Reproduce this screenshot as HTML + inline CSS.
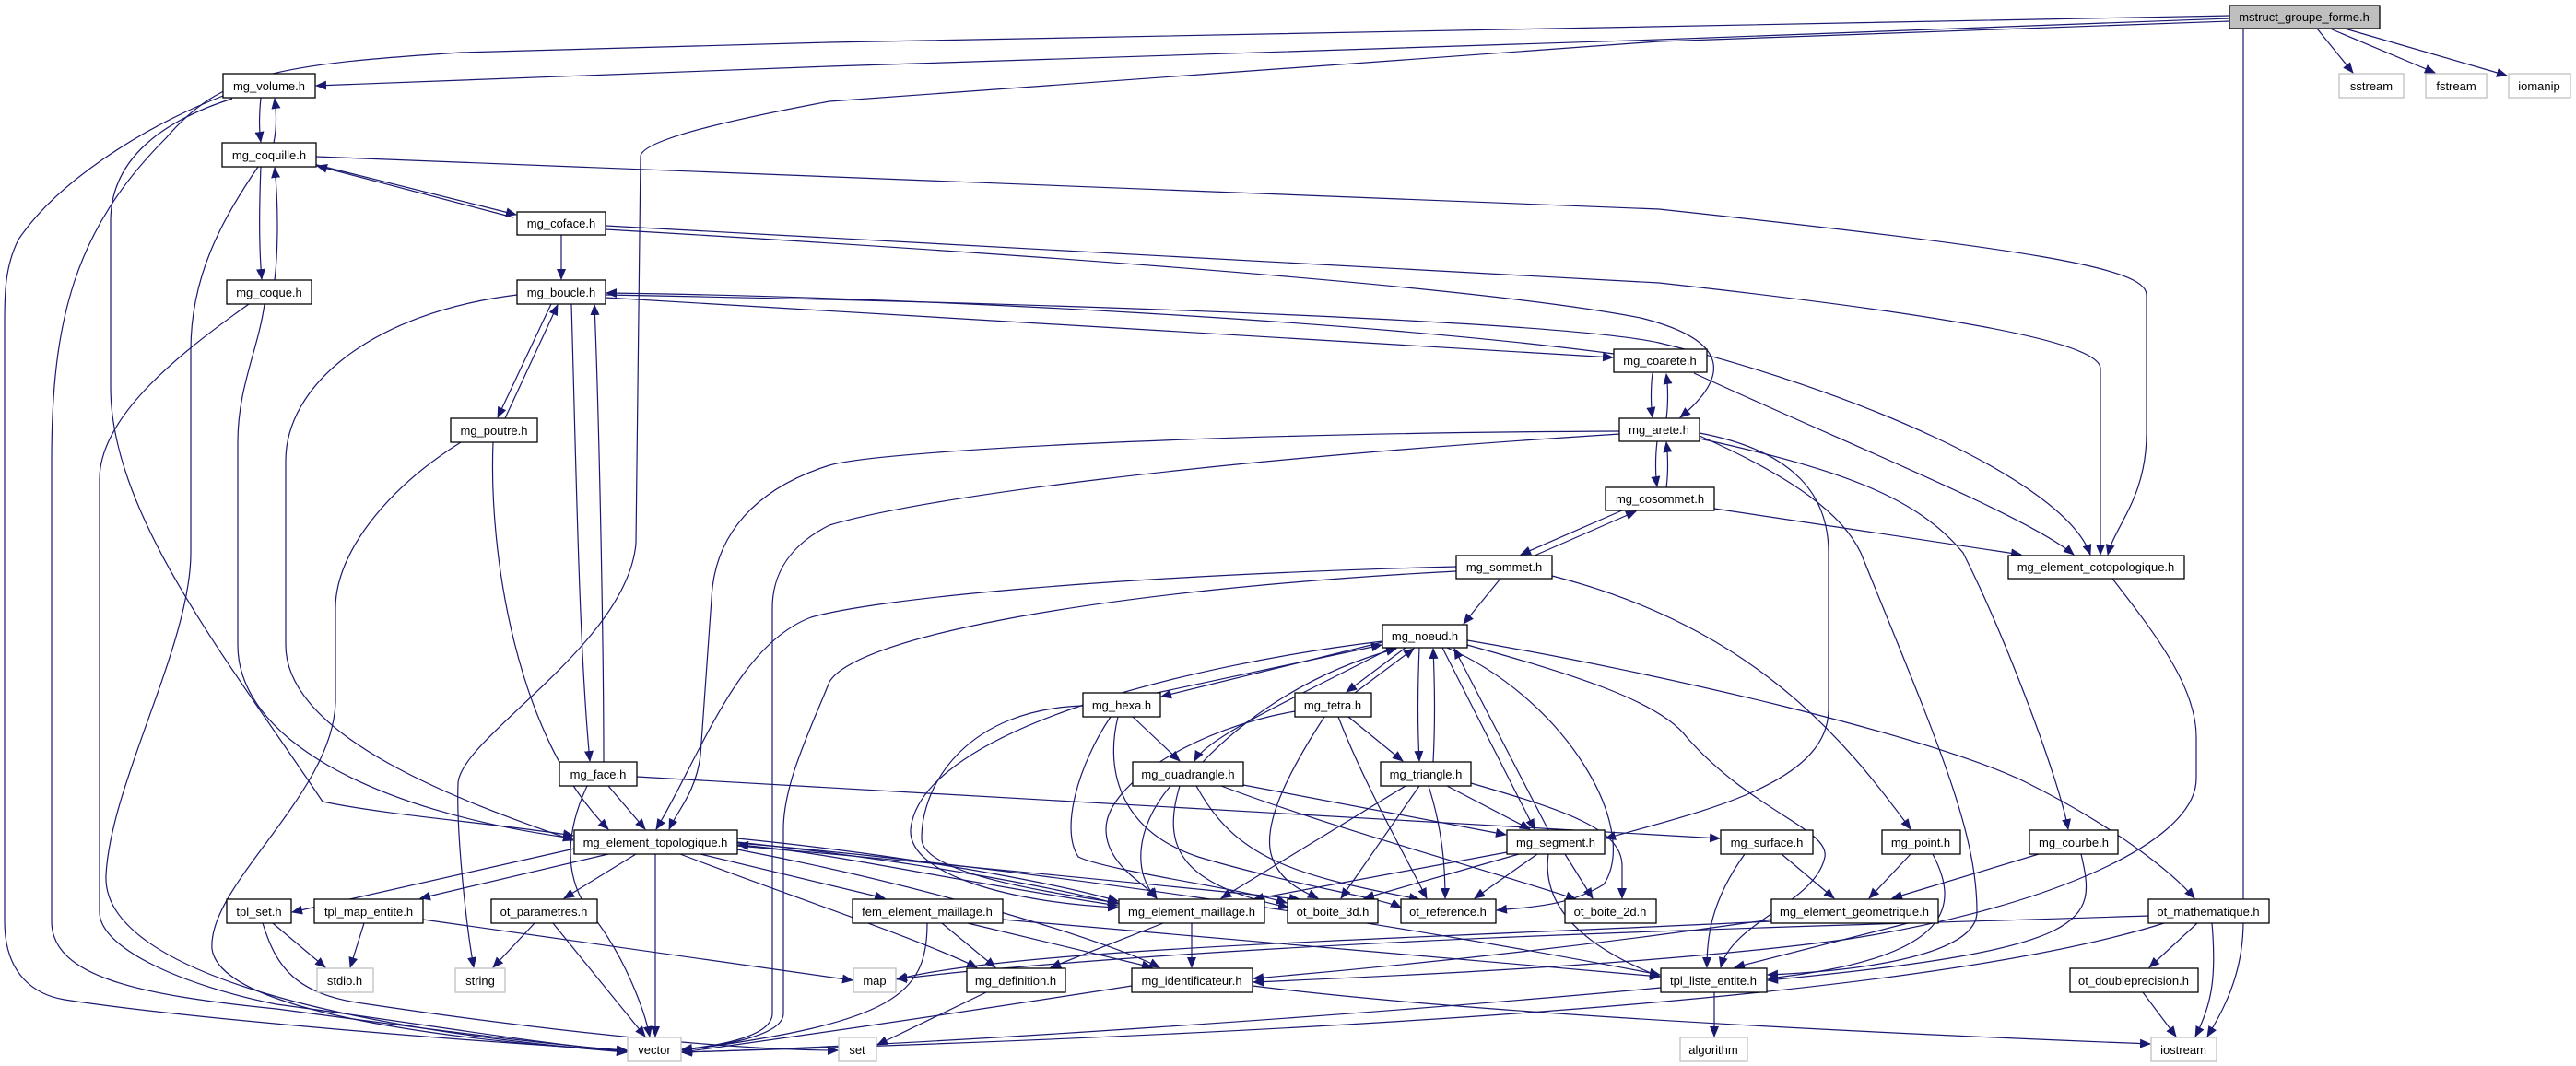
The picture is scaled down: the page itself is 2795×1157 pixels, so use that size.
<!DOCTYPE html>
<html><head><meta charset="utf-8"><style>
html,body{margin:0;padding:0;background:#fff;}
svg{display:block;}
text{font-family:"Liberation Sans",sans-serif;font-size:13px;fill:#000;}
</style></head><body>
<svg width="2795" height="1157" viewBox="0 0 2795 1157" xmlns="http://www.w3.org/2000/svg">
<defs>
<marker id="a" markerUnits="userSpaceOnUse" markerWidth="12" markerHeight="10" refX="11" refY="5" orient="auto">
<path d="M0,0 L12,5 L0,10 Z" fill="#191970"/>
</marker>
</defs>
<g fill="none" stroke="#191970" stroke-width="1.2" marker-end="url(#a)">
<!-- mstruct -->
<path d="M2419,20 L1800,43 L900,72 L343,93"/>
<path d="M2419,17 L900,46 L500,57 C300,70 240,80 180,150 C80,250 56,350 56,500 L56,1000 C56,1060 150,1080 300,1095 C450,1115 600,1135 680,1140"/>
<path d="M2419,23 L1800,45 L900,110 C820,125 695,150 695,170 L690,590 C680,700 500,800 497,850 C495,900 505,1000 514,1050"/>
<path d="M2434,31 L2434,1000 C2434,1060 2410,1100 2395,1125"/>
<path d="M2514,31 L2553,79"/>
<path d="M2528,31 L2642,79"/>
<path d="M2544,31 L2720,82"/>
<!-- volume / coquille / coque -->
<path d="M283,106 C281,125 281,140 283,154"/>
<path d="M297,155 C300,140 300,122 298,107"/>
<path d="M242,104 C150,140 60,200 20,260 C5,290 5,320 5,350 L5,1000 C5,1060 40,1080 70,1085 C200,1105 500,1130 680,1140"/>
<path d="M252,107 C180,130 120,170 120,240 L120,420 C120,560 250,720 350,870 C420,885 550,895 622,907"/>
<path d="M283,181 C281,230 281,270 284,303"/>
<path d="M298,304 C302,270 302,220 298,182"/>
<path d="M280,181 C240,240 207,300 207,380 L207,600 C207,700 120,850 115,950 C110,1060 400,1120 680,1142"/>
<path d="M343,170 L1800,227 C2200,270 2329,290 2329,320 L2329,470 C2329,540 2295,570 2287,602"/>
<path d="M340,178 L560,233"/>
<path d="M557,236 L344,180"/>
<path d="M270,330 C200,380 108,450 108,520 L108,990 C108,1030 200,1070 300,1090 C450,1110 600,1135 680,1141"/>
<path d="M287,330 C280,380 258,420 258,480 L258,700 C258,800 400,880 622,910"/>
<!-- coface -->
<path d="M609,255 L609,303"/>
<path d="M657,245 L1800,307 C2100,340 2279,370 2279,400 L2279,602"/>
<path d="M657,249 C1100,275 1600,310 1780,345 C1880,370 1875,410 1823,453"/>
<!-- boucle -->
<path d="M657,323 L1750,388"/>
<path d="M1751,384 C1500,350 1000,322 658,318"/>
<path d="M657,320 C1200,330 1700,350 1800,372 C2000,420 2240,520 2268,602"/>
<path d="M561,320 C400,340 310,420 310,500 L310,700 C310,800 500,870 622,912"/>
<path d="M620,330 C625,500 628,700 640,826"/>
<path d="M655,827 C655,700 650,450 645,331"/>
<path d="M598,330 L540,453"/>
<path d="M548,454 L605,331"/>
<!-- poutre -->
<path d="M500,480 C420,530 364,600 364,660 L364,760 C364,860 225,960 230,1030 C240,1100 500,1130 680,1141"/>
<path d="M535,480 C530,600 560,800 660,900"/>
<!-- face -->
<path d="M660,853 L700,900"/>
<path d="M637,853 C615,900 610,950 640,990 C680,1040 700,1100 705,1125"/>
<path d="M691,843 L1866,910"/>
<!-- coarete / arete / cosommet -->
<path d="M1793,405 C1791,420 1791,440 1793,453"/>
<path d="M1808,454 C1810,440 1810,420 1808,406"/>
<path d="M1838,405 C2000,480 2200,560 2250,602"/>
<path d="M1798,479 C1796,495 1796,515 1798,528"/>
<path d="M1808,529 C1810,515 1810,495 1808,480"/>
<path d="M1860,552 L2193,602"/>
<path d="M1844,470 C1950,490 1984,540 1984,600 L1984,770 C1984,850 1850,880 1742,910"/>
<path d="M1844,473 C1950,520 2000,560 2019,600 C2100,800 2145,900 2145,990 C2145,1040 2000,1055 1918,1058"/>
<path d="M1844,476 C2000,510 2080,540 2130,600 C2180,700 2235,850 2244,900"/>
<path d="M1758,468 C1300,470 950,490 900,505 C820,530 775,580 772,650 L760,820 C755,860 735,880 726,900"/>
<path d="M1758,471 C1300,500 1000,540 900,570 C860,590 838,620 838,660 L838,1100 C838,1125 780,1135 740,1139"/>
<path d="M1760,554 L1650,602"/>
<path d="M1665,603 L1775,555"/>
<!-- sommet -->
<path d="M1628,628 L1588,677"/>
<path d="M1580,615 C1200,625 950,650 880,670 C800,700 760,820 712,900"/>
<path d="M1580,620 C1200,640 930,690 900,740 C880,790 850,850 850,900 L850,1100 C850,1125 780,1135 740,1140"/>
<path d="M1684,625 C1900,680 2000,800 2073,900"/>
<!-- noeud -->
<path d="M1500,697 L1260,756"/>
<path d="M1255,752 L1499,700"/>
<path d="M1525,703 L1461,751"/>
<path d="M1470,752 L1534,704"/>
<path d="M1540,703 C1538,750 1538,790 1540,826"/>
<path d="M1555,827 C1557,790 1557,750 1555,704"/>
<path d="M1510,703 C1400,760 1310,800 1296,826"/>
<path d="M1305,827 C1350,780 1420,730 1515,704"/>
<path d="M1565,703 L1665,900"/>
<path d="M1680,901 L1578,704"/>
<path d="M1500,696 C1300,720 1000,790 988,900 C985,950 1100,980 1213,985"/>
<path d="M1570,703 C1700,760 1780,900 1740,960 C1700,985 1650,985 1624,988"/>
<path d="M1592,695 C1800,730 2100,800 2200,850 C2300,900 2360,950 2381,975"/>
<path d="M1592,700 C1700,730 1800,760 1830,800 C1900,880 1985,900 1980,930 C1970,980 1880,1000 1867,1050"/>
<!-- hexa -->
<path d="M1229,778 L1280,826"/>
<path d="M1175,766 C1050,770 1000,850 1000,910 C1000,950 1150,970 1213,980"/>
<path d="M1205,778 C1170,830 1150,900 1170,930 C1200,945 1350,965 1396,980"/>
<path d="M1213,778 C1200,830 1210,900 1300,930 C1400,960 1500,975 1520,985"/>
<!-- tetra -->
<path d="M1463,778 L1522,826"/>
<path d="M1437,778 C1390,850 1370,900 1380,930 C1390,960 1420,970 1430,975"/>
<path d="M1452,778 C1480,850 1520,920 1548,975"/>
<path d="M1405,772 C1300,790 1200,850 1200,900 C1200,940 1245,960 1255,975"/>
<!-- quadrangle -->
<path d="M1349,852 L1634,906"/>
<path d="M1270,853 C1230,900 1230,950 1255,975"/>
<path d="M1280,853 C1260,920 1280,960 1398,985"/>
<path d="M1298,853 C1340,930 1400,950 1540,976"/>
<path d="M1325,853 C1450,900 1600,940 1710,976"/>
<!-- triangle -->
<path d="M1570,853 L1660,900"/>
<path d="M1525,853 L1325,975"/>
<path d="M1540,853 L1455,975"/>
<path d="M1550,853 C1565,900 1568,940 1568,975"/>
<path d="M1596,850 C1700,880 1760,900 1760,940 L1760,975"/>
<!-- segment -->
<path d="M1635,925 L1360,976"/>
<path d="M1648,927 L1480,975"/>
<path d="M1668,927 L1600,975"/>
<path d="M1698,927 L1728,975"/>
<path d="M1680,927 C1670,1000 1750,1040 1801,1060"/>
<!-- topologique -->
<path d="M628,920 L317,990"/>
<path d="M660,927 L456,975"/>
<path d="M690,927 L612,975"/>
<path d="M711,927 L711,1125"/>
<path d="M800,910 C1000,930 1150,960 1213,978"/>
<path d="M1213,983 C1000,950 900,925 801,917"/>
<path d="M800,914 C1000,935 1150,965 1213,981"/>
<path d="M760,927 L960,975"/>
<path d="M738,927 C850,970 1000,1020 1060,1050"/>
<path d="M800,922 C1000,960 1200,1020 1258,1050"/>
<path d="M800,915 C1100,940 1500,1000 1801,1058"/>
<path d="M800,918 C1000,935 1300,965 1410,976"/>
<!-- lower -->
<path d="M296,1002 L353,1050"/>
<path d="M285,1002 C300,1050 320,1080 400,1090 C600,1120 800,1140 909,1140"/>
<path d="M395,1002 L380,1050"/>
<path d="M459,998 L925,1064"/>
<path d="M580,1002 L535,1050"/>
<path d="M600,1002 L700,1125"/>
<path d="M1022,1002 L1080,1050"/>
<path d="M1050,1002 L1250,1050"/>
<path d="M1006,1002 C1006,1080 970,1110 740,1140"/>
<path d="M1088,998 L1801,1060"/>
<path d="M1262,1002 L1140,1050"/>
<path d="M1293,1002 L1293,1050"/>
<path d="M2070,1002 L1882,1050"/>
<path d="M1922,998 C1700,1030 1500,1050 1360,1062"/>
<path d="M1922,1000 C1500,1020 1100,1030 973,1063"/>
<path d="M1893,927 C1855,980 1852,1020 1852,1050"/>
<path d="M1933,927 L1990,975"/>
<path d="M2073,927 L2028,975"/>
<path d="M2097,927 C2125,980 2125,1040 1918,1062"/>
<path d="M2212,927 L2053,975"/>
<path d="M2258,927 C2275,1000 2275,1030 1918,1064"/>
<path d="M2292,628 C2340,690 2383,746 2383,800 L2383,845 C2383,920 2200,990 2000,1020 C1800,1047 1500,1060 1360,1066"/>
<path d="M2384,1002 L2332,1050"/>
<path d="M2400,1002 C2405,1060 2400,1090 2382,1125"/>
<path d="M2348,1002 C2100,1080 1500,1120 740,1142"/>
<path d="M2331,994 C2000,1005 1500,1015 1100,1050 C1000,1058 990,1062 973,1062"/>
<path d="M2325,1077 L2361,1125"/>
<path d="M1860,1077 L1860,1125"/>
<path d="M1802,1072 C1500,1100 1000,1135 740,1142"/>
<path d="M1359,1070 C1600,1100 2000,1120 2333,1133"/>
<path d="M1228,1070 C1100,1090 900,1120 740,1142"/>
<path d="M1070,1077 L952,1134"/>
</g>
<g stroke-width="1.3">
<g fill="#fff" stroke="#000">
<rect x="242" y="80" width="100" height="26"/>
<rect x="241" y="155" width="102" height="26"/>
<rect x="561" y="230" width="96" height="25"/>
<rect x="246" y="304" width="92" height="26"/>
<rect x="561" y="304" width="96" height="26"/>
<rect x="489" y="454" width="94" height="26"/>
<rect x="607" y="827" width="84" height="26"/>
<rect x="623" y="901" width="177" height="26"/>
<rect x="246" y="976" width="70" height="26"/>
<rect x="341" y="976" width="118" height="26"/>
<rect x="533" y="976" width="115" height="26"/>
<rect x="1751" y="379" width="101" height="25"/>
<rect x="1757" y="454" width="87" height="25"/>
<rect x="1742" y="529" width="118" height="25"/>
<rect x="1580" y="603" width="104" height="25"/>
<rect x="1500" y="678" width="92" height="25"/>
<rect x="1175" y="752" width="84" height="26"/>
<rect x="1405" y="752" width="83" height="26"/>
<rect x="1229" y="827" width="120" height="26"/>
<rect x="1498" y="827" width="98" height="26"/>
<rect x="1635" y="901" width="106" height="26"/>
<rect x="925" y="976" width="163" height="26"/>
<rect x="1214" y="976" width="158" height="26"/>
<rect x="1397" y="976" width="98" height="26"/>
<rect x="1520" y="976" width="103" height="26"/>
<rect x="1698" y="976" width="99" height="26"/>
<rect x="1049" y="1051" width="107" height="26"/>
<rect x="1228" y="1051" width="131" height="26"/>
<rect x="2179" y="603" width="191" height="25"/>
<rect x="1867" y="901" width="100" height="26"/>
<rect x="2042" y="901" width="85" height="26"/>
<rect x="2202" y="901" width="96" height="26"/>
<rect x="1922" y="976" width="181" height="26"/>
<rect x="2331" y="976" width="131" height="26"/>
<rect x="1802" y="1051" width="115" height="26"/>
<rect x="2246" y="1051" width="139" height="26"/>
</g>
<rect x="2419" y="6" width="163" height="25" fill="#bfbfbf" stroke="#000"/>
<g fill="#fff" stroke="#bfbfbf">
<rect x="2538" y="80" width="70" height="26"/>
<rect x="2632" y="80" width="66" height="26"/>
<rect x="2722" y="80" width="67" height="26"/>
<rect x="344" y="1051" width="61" height="26"/>
<rect x="494" y="1051" width="54" height="26"/>
<rect x="681" y="1126" width="58" height="26"/>
<rect x="926" y="1051" width="46" height="26"/>
<rect x="910" y="1126" width="41" height="26"/>
<rect x="1823" y="1126" width="73" height="26"/>
<rect x="2334" y="1126" width="71" height="26"/>
</g>
</g>
<g text-anchor="middle">
<text x="2500" y="23">mstruct_groupe_forme.h</text>
<text x="2573" y="98">sstream</text>
<text x="2665" y="98">fstream</text>
<text x="2755" y="98">iomanip</text>
<text x="292" y="98">mg_volume.h</text>
<text x="292" y="173">mg_coquille.h</text>
<text x="609" y="247">mg_coface.h</text>
<text x="292" y="322">mg_coque.h</text>
<text x="609" y="322">mg_boucle.h</text>
<text x="536" y="472">mg_poutre.h</text>
<text x="649" y="845">mg_face.h</text>
<text x="711" y="919">mg_element_topologique.h</text>
<text x="281" y="994">tpl_set.h</text>
<text x="400" y="994">tpl_map_entite.h</text>
<text x="590" y="994">ot_parametres.h</text>
<text x="374" y="1069">stdio.h</text>
<text x="521" y="1069">string</text>
<text x="710" y="1144">vector</text>
<text x="949" y="1069">map</text>
<text x="930" y="1144">set</text>
<text x="1801" y="396">mg_coarete.h</text>
<text x="1800" y="471">mg_arete.h</text>
<text x="1801" y="546">mg_cosommet.h</text>
<text x="1632" y="620">mg_sommet.h</text>
<text x="1546" y="695">mg_noeud.h</text>
<text x="1217" y="770">mg_hexa.h</text>
<text x="1446" y="770">mg_tetra.h</text>
<text x="1289" y="845">mg_quadrangle.h</text>
<text x="1547" y="845">mg_triangle.h</text>
<text x="1688" y="919">mg_segment.h</text>
<text x="1006" y="994">fem_element_maillage.h</text>
<text x="1293" y="994">mg_element_maillage.h</text>
<text x="1446" y="994">ot_boite_3d.h</text>
<text x="1571" y="994">ot_reference.h</text>
<text x="1747" y="994">ot_boite_2d.h</text>
<text x="1102" y="1069">mg_definition.h</text>
<text x="1293" y="1069">mg_identificateur.h</text>
<text x="2274" y="620">mg_element_cotopologique.h</text>
<text x="1917" y="919">mg_surface.h</text>
<text x="2084" y="919">mg_point.h</text>
<text x="2250" y="919">mg_courbe.h</text>
<text x="2012" y="994">mg_element_geometrique.h</text>
<text x="2396" y="994">ot_mathematique.h</text>
<text x="1859" y="1069">tpl_liste_entite.h</text>
<text x="2315" y="1069">ot_doubleprecision.h</text>
<text x="1859" y="1144">algorithm</text>
<text x="2369" y="1144">iostream</text>
</g>
</svg>
</body></html>
